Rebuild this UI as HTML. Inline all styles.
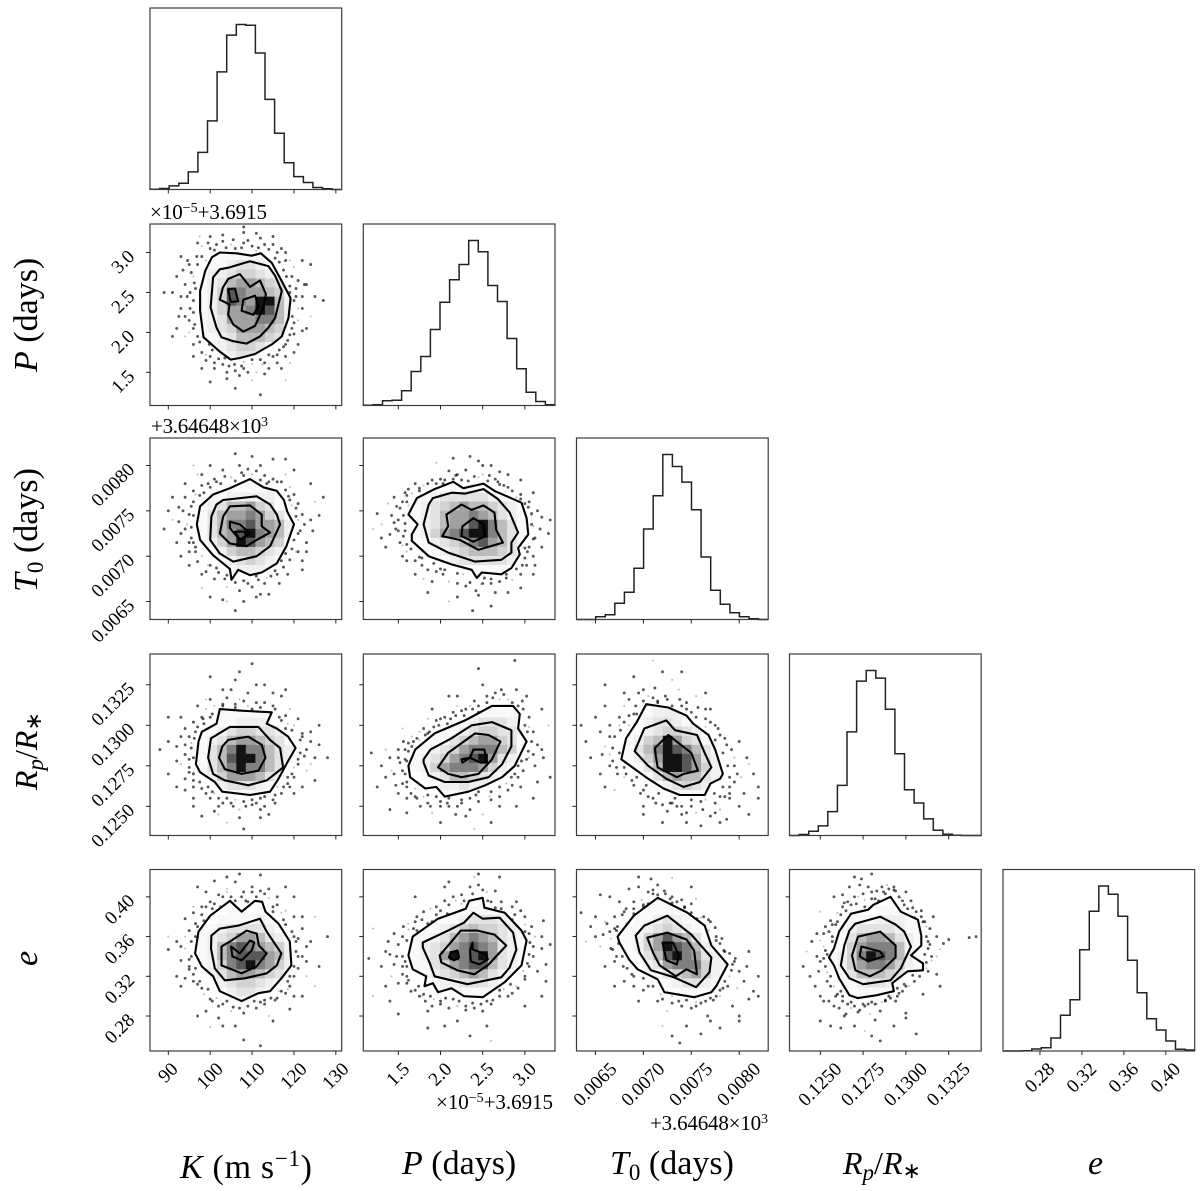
<!DOCTYPE html>
<html lang="en">
<head>
<meta charset="utf-8">
<title>Corner plot</title>
<style>
html,body{margin:0;padding:0;background:#fff;}
svg{display:block;filter:blur(.35px);}
text{font-family:"Liberation Serif",serif;fill:#000;}
.tick{font-size:19px;}
.off{font-size:21px;}
.lab{font-size:34px;}
</style>
</head>
<body>
<svg id="chart" xmlns="http://www.w3.org/2000/svg" width="1200" height="1191" viewBox="0 0 1200 1191">
<rect width="1200" height="1191" fill="#fff"/>
<g id="panels"></g>
<text class="off" x="150" y="219" textLength="117">×10<tspan dy="-7" font-size="14">−5</tspan><tspan dy="7">+3.6915</tspan></text>
<text class="off" x="151" y="433" textLength="117">+3.64648×10<tspan dy="-7" font-size="14">3</tspan></text>
<text class="off" x="436" y="1109" textLength="117">×10<tspan dy="-7" font-size="14">−5</tspan><tspan dy="7">+3.6915</tspan></text>
<text class="off" x="650" y="1130" textLength="118">+3.64648×10<tspan dy="-7" font-size="14">3</tspan></text>
<text class="lab" x="180" y="1178" textLength="132"><tspan font-style="italic">K</tspan> (m s<tspan dy="-12" font-size="23">−1</tspan><tspan dy="12">)</tspan></text>
<text class="lab" x="402" y="1174"><tspan font-style="italic">P</tspan> (days)</text>
<text class="lab" x="610" y="1174"><tspan font-style="italic">T</tspan><tspan dy="6" font-size="23">0</tspan><tspan dy="-6"> (days)</tspan></text>
<text class="lab" x="843" y="1174" font-size="32" style="font-size:32px"><tspan font-style="italic">R</tspan><tspan dy="6" font-size="23" font-style="italic">p</tspan><tspan dy="-6">/</tspan><tspan font-style="italic">R</tspan><tspan dy="4" font-size="22">∗</tspan></text>
<text class="lab" x="1088" y="1174" font-style="italic">e</text>
<text class="lab" transform="translate(37,372) rotate(-90)"><tspan font-style="italic">P</tspan> (days)</text>
<text class="lab" transform="translate(37,592) rotate(-90)"><tspan font-style="italic">T</tspan><tspan dy="6" font-size="23">0</tspan><tspan dy="-6"> (days)</tspan></text>
<text class="lab" transform="translate(37,790) rotate(-90)" style="font-size:32px"><tspan font-style="italic">R</tspan><tspan dy="6" font-size="23" font-style="italic">p</tspan><tspan dy="-6">/</tspan><tspan font-style="italic">R</tspan><tspan dy="4" font-size="22">∗</tspan></text>
<text class="lab" transform="translate(37,966) rotate(-90)" font-style="italic">e</text>
</svg>
<script>
/* Units: K m/s; P 1e-5 d (offset 3.6915); T0 1e-4 d (offset 3646.48); Rp/R* 1e-4; e 1e-2 */
const domainK=[85.63,131.4], domainP=[1.085,3.357], domainT=[63.02,83.03], domainR=[1232,1344], domainE=[24.48,42.75];
const ticksK=[90,100,110,120,130], labelsK=["90","100","110","120","130"];
const ticksP=[1.5,2,2.5,3], labelsP=["1.5","2.0","2.5","3.0"];
const ticksT=[65,70,75,80], labelsT=["0.0065","0.0070","0.0075","0.0080"];
const ticksR=[1250,1275,1300,1325], labelsR=["0.1250","0.1275","0.1300","0.1325"];
const ticksE=[28,32,36,40], labelsE=["0.28","0.32","0.36","0.40"];

const histK=[1,3,11,19,53,112,207,355,466,498,496,412,272,170,81,39,21,6,2,0];
const histP=[1,2,14,16,44,102,147,228,310,377,423,495,461,360,312,201,110,40,12,2];
const histT=[0,0,8,14,49,82,154,272,372,496,460,413,330,188,88,46,20,8,2,0];
const histR=[0,3,13,29,72,151,312,465,497,474,380,246,138,98,50,16,4,1,0,0];
const histE=[0,0,1,6,10,39,107,154,304,419,495,470,404,272,175,97,63,30,5,3];

const outerKP=[102.3,3,106.3,2.99,109.9,2.96,112.1,2.99,114.7,2.87,117.1,2.64,119.2,2.43,118.7,2.18,117.1,1.95,114.7,1.85,110.7,1.73,107.1,1.68,104.9,1.66,102.3,1.76,98.4,1.94,97.6,2.27,97.6,2.52,98.8,2.77,100.4,2.94];
const midKP=[104.3,2.81,109.5,2.89,113.9,2.83,115.5,2.71,117.1,2.52,115.5,2.18,113.9,2.06,111.9,1.95,108.7,1.86,105.5,1.89,102.7,1.94,101.5,2.06,100.1,2.31,100.7,2.69,102.3,2.79];
const innerKP=[104.3,2.67,107.1,2.73,109.5,2.57,111.9,2.65,113.3,2.48,112.7,2.31,110.7,2.08,107.9,2.01,105.5,2.1,104.3,2.22,104.6,2.35,102.3,2.41,103,2.56];
const peaksKP=[[104.3,2.54,105.9,2.55,106.7,2.39,104.9,2.38],[107.9,2.41,110.7,2.46,111.5,2.33,110.3,2.22,107.5,2.27]];
const densKP=["00001111100000","00111233210000","00122344321000","00123566543100","00124876654100","00124876995210","00124667985210","00123666775210","00123466654100","00112355543100","00012344321000","00001233210000","00000111100000"];
const dotsKP=[97,3.12,100,3.05,103,3.14,105,3.1,108,3.12,110,3.08,112,3.18,114,3.04,116,3,118,2.9,120,2.82,117,3.05,121,2.65,123,2.6,120,2.4,122,2.3,125,2.45,121,2.15,123,2.05,120,1.98,118,1.85,120,1.75,116,1.72,113,1.62,110,1.6,108,1.55,106,1.52,103,1.6,100,1.7,98,1.75,96,1.85,94,1.95,92,2.05,95,2.15,93,2.3,96,2.4,91,2.5,94,2.6,96,2.7,95,2.85,98,2.95,93,2.95,100,3.2,108,3.25,104,1.42,110,1.4,113,1.48,98,1.55,117,1.55,96,2.05,96.5,2.55,96,2.25,119,2.9,119.5,2.7,120.5,2.55,119.6,2.2,118.5,1.9,115,1.7,112,1.66,108,1.63,104.5,1.58,102,1.67,100.5,1.78,97.5,1.88,95.5,2.75,97,2.85,99,2.9,101,3.03,106,3.05,111.5,3.06,115.5,2.93,117.5,2.78,122,2.9,124,2.2,127,2.4,89,2.5,91,1.95,100,1.38,106,1.3,112,1.22,118,1.4,108,3.32,115,3.2,124,2.85,93.5,2.78,94.5,2.45,92.5,2.2,95,2,99,1.65,101,1.55,107,1.46,109,1.5,114,1.55,116,1.62,119,1.62,121,1.85,122,2.45,118,3,96.2,2.62,95.2,2.5,96.8,2.95,98,3.08,99.5,3.12,101.5,3.1,103.8,3.06,105.5,3.16,107.5,3.06,109,3.15,111,3.02,113,3.1,115,3.1,116.5,2.88,118.2,2.7,119,2.58,120.5,2.45,121,2.3,120,2.12,119.5,2.05,119,1.97,117.5,1.82,116.5,1.78,114,1.72,112.5,1.6,110,1.66,107.5,1.58,105.8,1.6,103.5,1.68,101,1.62,99.8,1.85,99,1.72,97,1.95,96.3,2.1,95.2,2.3,94,2.2,93,2.45,94.6,2.9,97.5,3.2,103,3.22,111,3.24,119,2.5,122.5,2.6,122,2.02,104,1.5,111,1.5,96,1.7,92,2.7,118,1.7];

const outerKT=[109.5,78.5,112.7,77.6,115.9,77.2,117.6,76.2,118.4,74.9,120,73.5,118.2,71.1,115.9,69.2,112.3,68.2,109.5,67.9,106.7,68.5,105.1,67.4,104.7,68.6,100.7,70.1,97.6,71.8,96.8,73.5,97.6,75.5,100.7,76.8,104.7,77.5];
const midKT=[103.1,76.2,111.1,76.6,114.3,75.7,115.9,74.6,116.7,73.5,114.3,71.1,111.1,70,105.5,69.4,102.3,70.3,100,71.8,100.3,74.4,101.5,75.7];
const innerKT=[104.7,75.5,109.5,75.6,112.3,74.6,112.3,73.3,114.3,72.6,111.1,71.8,108.7,71.1,104.7,71.4,102.3,72.5,103.1,74.4];
const peaksKT=[[104.7,73.8,107.1,73.5,109.5,72.5,107.1,71.8,104.7,73.1],[105.9,72.7,108.3,72.7,108.5,72.2,107.1,71.8]];
const densKT=["00000000000000","00000001100000","00000111110000","00011222221100","00123556431100","00135667643100","00135778665210","00135689765210","00124698654100","00012455432100","00001234321000","00000122211000","00000011000000"];
const dotsKT=[98,79,101,78.5,103,79.5,105,78.7,107,80,109,79.6,111,79.4,113,78.9,115,78.5,117,78.2,119,77.6,120,76.8,121,75.8,122,74.6,122.5,73.5,121,72.5,123,71.5,120.5,70.5,119,69.6,117.5,68.8,116,68,113,67,110,66.6,107,66.2,104,66.6,101,67.5,99,68.3,97,69.4,95,70.5,96,71.5,93,72.5,94.5,73.5,95,74.6,92.5,75.4,94,76.5,96,77.2,98,77.8,100,77.6,91,74,89,73,100,65.5,108,65,112,65.8,103,65.2,106,64,125,76,126,74.5,124,78,120,79.5,110,81,106,81.3,115,80.7,96,80,95,69,93,70,118.5,68,121,70.5,122,69.5,116.5,67,118,79,113.5,78,102.5,78,108,78.9,95.5,72,96,76,97.5,76.7,99.5,69,101.5,68.7,103.5,67.5,109,67,111.5,67.4,114.5,67.8,120.5,74.4,119.5,75.6,118.7,76.6,117,72,96.5,70.5,92,71.5,91,76.5,94,78,98,66.5,114,65.8,122,68.5,124.5,72.8,127,76.5,96,74.5,95.5,75.5,96.5,76.8,98.5,77,99.5,78,101.5,78.2,103.5,78.8,106,78.3,107.5,79.2,110,79,112,78.4,114,78.2,116,78.2,118,77.3,119,76.2,120.5,75.3,121,74,121.5,72.8,120,71.8,119.5,70.8,118,70.3,117,69.5,115.5,68.4,113.5,67.6,111,67.8,108,67.3,106,67.1,104,67.9,102,68.2,100,69,98,70,96.5,71,95,71.5,94,73,95.5,73.2,93.5,75,92.5,73.8,97,79,100,80,112,80,118,80.7,124,74,123,70.5,111,65.5,104,65,98,68,90,75];

const outerTP=[1.72,76.4,1.93,77.4,2.15,78.2,2.27,77.5,2.51,78,2.64,77.2,2.96,75.9,3.02,74.2,3.04,72.4,2.92,70.9,2.94,70.2,2.84,68.7,2.72,68,2.49,68.2,2.43,67.6,2.37,68.5,2.13,69.1,1.86,70,1.66,71.7,1.66,72.4,1.73,73.5,1.62,74.6];
const midTP=[1.91,76.4,2.13,77,2.29,76.9,2.51,77.4,2.68,76.3,2.82,74.8,2.92,72.6,2.84,71.5,2.84,70.4,2.72,69.6,2.41,69.4,2.09,70.4,1.86,71.5,1.8,73.5,1.86,75.7];
const innerTP=[2.07,74.6,2.25,75.7,2.37,75.1,2.51,75.6,2.64,74.8,2.66,72.9,2.74,71.5,2.45,70.7,2.23,71.8,2.02,72.2,2.09,73.3];
const peaksTP=[[2.39,74.2,2.51,73.5,2.53,72.2,2.39,71.6,2.25,72.2,2.26,73.3]];
const densTP=["00000000000000","00000000000000","00000011110000","00112333332111","00123456554321","00123566765321","00123566897531","00124678997531","00012345786531","00011234555431","00001123333321","00000011111100","00000000100000"];
const dotsTP=[1.6,76.7,1.55,76,1.48,75.5,1.38,75.8,1.42,74.5,1.45,73.7,1.5,72.8,1.4,72.4,1.52,71.5,1.35,71,1.6,70.5,1.55,70,1.7,69.5,1.78,69,1.85,68.5,1.95,68.3,2.03,68,2.1,67.2,2.2,67,2.3,66.7,2.42,66.2,2.5,67,2.6,67,2.7,67.2,2.85,67.4,2.95,68,3.02,69,3.1,70,3.05,71,3.12,72,3.18,73,3.08,74.5,3.15,75,3.05,76,2.95,76.8,2.85,77.2,2.75,77.8,2.65,78.5,2.5,79,2.4,78.8,2.3,79.5,2.2,79,2.1,79.4,2,78.5,1.9,78.4,1.8,77.8,1.7,78,1.62,77.4,2.35,81,2.45,80.5,2.6,80,2.15,80.8,1.95,80.3,2.8,79,2.95,78.4,3.1,77,3.3,74,3.28,72.5,1.25,74.7,1.3,73.5,1.7,68,1.9,67.2,2.2,65.5,2.45,65.7,2.6,64.5,2.38,64,2.1,65,1.85,66,2.8,66,2.95,66.5,3.1,68,1.58,72.8,1.58,73.6,1.62,75.6,1.58,77,1.75,77.2,2.03,78,2.25,78.4,2.56,78.3,2.7,77.9,2.9,76.5,3,75.8,3.08,73.5,3.03,70.5,2.97,69,2.78,68,2.52,67.6,2.27,68,2,68.6,1.78,69.8,1.6,71.3,1.56,74.5,1.52,75.3,1.6,76,1.66,76.9,1.75,77.5,1.85,78,1.95,78,2.05,78.4,2.18,78.9,2.33,78.3,2.45,78.7,2.58,78.9,2.68,78.2,2.8,77.6,2.95,76.3,3.04,75.4,3.08,74.7,3.1,73.3,3.1,71.9,3,70.9,3,69.8,2.9,68.6,2.78,67.6,2.6,67.5,2.48,66.9,2.35,67.1,2.2,68.1,2.05,68.5,1.92,69.2,1.75,69.9,1.65,70.8,1.55,71.2,1.56,72.2,1.47,73,1.5,74,1.45,76.5,1.3,72,1.6,69.5,1.2,73,2.5,80,2.7,79.3,2.15,78.5,3.2,74.3,3.2,71,3.12,69,1.8,67.5,2.65,66];

const outerKR=[102.3,1310,107.5,1309,114.7,1308,113.5,1301,115.9,1298,118.6,1293,120.4,1286,118.6,1278,116.3,1267,114.3,1259,109.5,1257,102.9,1259,101.1,1265,97.6,1271,96.6,1276,97.2,1290,98,1296,101.5,1301];
const midKR=[104.7,1299,111.5,1299,114.3,1291,116.7,1286,117.4,1274,113.5,1266,109.1,1263,103.5,1266,100.7,1270,99.5,1280,100.2,1292];
const innerKR=[104.3,1291,109.1,1293,112.3,1288,113.2,1280,111.5,1272,107.5,1270,103.5,1273,102.1,1280,102.9,1287];
const peaksKR=[];
const densKR=["0","0","0","00001111111000","00011122221000","00112344332100","00123566543100","00135797753210","00135899753210","00135797753100","00124666532100","00012333211000","00000111111000"];
const dotsKR=[100,1316,103,1313,105,1322,107,1316,109,1320,111,1314,113,1325,115,1312,117,1318,118,1306,120,1300,122,1295,121,1304,124,1290,123,1285,126,1288,121,1279,123,1272,120,1268,119,1262,117,1258,115,1254,113,1250,110,1251,107,1248,105,1252,102,1250,100,1255,98,1261,96,1266,95,1271,93,1276,94,1282,92,1287,95,1293,94,1298,96,1302,98,1305,99,1310,97,1312,93,1305,90,1290,90,1270,88,1285,98,1244,104,1240,108,1236,112,1243,100,1330,110,1338,107,1333,118,1322,124,1276,125,1266,122,1262,114,1245,96,1255,94,1260,96,1280,95.5,1289,95,1274,96,1262,99,1258,100.5,1259,102,1255,104,1255,106,1254,108,1253,110,1254,112,1255,115.5,1257,117.5,1262,118.5,1268,120,1274,121.5,1283,121.5,1291,118,1298,117,1303,115.5,1310,112,1311,109,1312,106,1311,103,1312,100.5,1307,98.5,1301,96.5,1296,95.5,1286,119,1310,126,1300,128,1280,90,1305,92,1262,101,1247,107,1243,96,1271,95,1279,94,1288,96.2,1292,97,1299,98.3,1304,100,1305,101,1312,104,1317,106,1313,108,1315,110,1310,113,1314,116.5,1305,118.5,1301,119.5,1297,122,1293,122.5,1281,121,1276,119.5,1270,118.5,1264,116,1262,115.5,1252,113,1256,111,1252,108.5,1250,105.5,1250,103,1252,101,1258,99.5,1262,97.5,1265,96,1270,94,1267,92,1278,93,1293,99,1316,103,1322,115,1320,124,1296,125,1280,120,1258,112,1248,102,1245,96,1250,111,1325,106,1328];

const outerKE=[100,38.1,104.7,39.6,107.5,38.5,110.7,39.6,112.4,39.5,113.2,38.5,116.3,37.3,119,35.5,119.4,33.1,117,31.8,114.3,30.5,111.5,30.3,107.5,29.5,102.3,30.5,100.7,32,98,33,96.4,34.3,97.2,36.5];
const midKE=[102.3,36.8,106.7,37.1,111.9,37.8,113.5,36.5,117,34.3,115.9,33.1,113.5,32.3,108.3,31.8,103.5,31.6,101.1,32.8,100.2,34.8,100.3,36.1];
const innerKE=[105.1,35.6,108.7,36.6,111.1,36.3,111.6,35.1,113.5,34.3,111.1,33,107.5,32.3,102.7,33.1,102.7,35];
const peaksKE=[[105,35,107.1,34.3,109.5,35.6,110.5,35.4,109.9,34.6,107.5,33.6,105.3,34]];
const densKE=["00000000000000","00000110110000","00001111211000","00112333321000","00123466532100","00125787654210","00125788865210","00124789764210","00123566543100","00012344321000","00001233211000","00000011100000","0"];
const dotsKE=[98,39,100,39.5,102,40.2,104,40.8,106,41.5,108,40.5,110,41,112,40.6,114,40.8,116,39.2,118,38.6,120,38,122,36.8,121,35.8,123,35,122,34,121,32.8,123,32,119,31,118,30.3,116,29.8,113,29.6,111,28.8,108,28.3,105,28.5,102,29,100,29.7,98,30.8,96,31.5,95,32.7,93,33.6,94,34.8,92,35.5,95,36.6,94,37.8,96,38.4,90,34.7,92,32,100,26.9,108,25.6,112,25,103,27,115,27.5,97,41,112,42.2,125,38,128,36,126,33,107,42.3,101,41.6,120,40,118,41,125,31,122,30,96.5,37.3,95.5,35.5,95,33.7,96,32.2,97,31.2,98.5,30.2,100.5,29.5,103,29.2,105.5,28.9,109,29,112,29.4,114.5,29.8,116.5,30.5,118.5,31.5,120,33,120.5,34.5,120,36,117.5,37.7,115,38.5,114,39.9,111,40,108.5,39.6,105,40,102.5,39,100.5,38.8,98.5,37.6,90,36,93,31,97,28,102,27.8,119,28.7,124,35.5,95.5,34,94,36,96.5,36,97,37,98,38.2,99,39,101,39.3,103,40,104,40.5,106,39.6,107.5,40,109,39.5,110,40.5,113,40.3,115,39,117,38.4,118,37.2,119.5,36.5,120.5,35.5,121,34,120,32,119,32,118.5,30.7,117,30.5,115.5,29.6,113,29.2,110.5,29.5,107,28.8,104,29.5,101.5,29.8,99.5,30.7,97.5,31.5,96.5,32.8,95,33,94,31.8,93,35,96,39,99,40.5,104,42,116,40,122,38,123,33.5,120,30,114,28,106,27,99,28.5];

const outerRP=[1.7,1285,1.93,1295,2.29,1303,2.61,1312,2.86,1312,2.94,1307,2.92,1298,3.02,1290,2.88,1275,2.73,1268,2.53,1263,2.33,1259,2.05,1256,1.95,1262,1.82,1261,1.64,1268,1.62,1275];
const midRP=[1.8,1279,1.88,1285,2.13,1292,2.37,1300,2.61,1302,2.84,1297,2.84,1287,2.73,1276,2.57,1268,2.33,1265,2.05,1265,1.86,1269,1.8,1277];
const innerRP=[1.97,1274,2.09,1283,2.41,1295,2.57,1294,2.71,1290,2.61,1279,2.45,1270,2.25,1268,2.09,1270];
const peaksRP=[[2.25,1279,2.35,1280,2.39,1285,2.52,1285,2.55,1277,2.47,1277,2.35,1280,2.26,1277]];
const densRP=["0","0","00000000001110","00000000111111","00000011233321","00000112344332","00011134566431","00012346777541","00123467896321","00124677764210","00012355432100","00001223221000","00000011100000"];
const dotsRP=[1.3,1275,1.35,1268,1.4,1280,1.42,1272,1.47,1263,1.5,1285,1.52,1277,1.56,1290,1.6,1262,1.62,1284,1.66,1293,1.7,1256,1.72,1292,1.76,1250,1.8,1298,1.85,1252,1.87,1296,1.9,1246,1.95,1303,2,1250,2.05,1305,2.1,1250,2.15,1308,2.18,1245,2.2,1312,2.25,1252,2.3,1310,2.35,1248,2.4,1315,2.45,1253,2.45,1308,2.5,1245,2.55,1318,2.6,1254,2.62,1317,2.7,1256,2.72,1322,2.8,1260,2.8,1316,2.85,1263,2.9,1322,2.92,1268,2.97,1315,2.98,1272,3.02,1318,3.05,1280,3.05,1305,3.1,1296,3.12,1275,3.15,1288,3.2,1310,3.22,1280,3.28,1300,3.3,1268,1.18,1283,1.25,1262,1.4,1248,1.6,1246,2,1240,2.4,1236,2.6,1240,2.9,1250,3.1,1255,2.45,1335,2.88,1340,2.95,1262,1.55,1298,1.9,1310,2.1,1318,1.58,1270,1.58,1279,1.6,1278,1.66,1287,1.75,1291,1.85,1295,1.98,1300,2.12,1304,2.25,1309,2.38,1310,2.55,1314,2.7,1316,2.92,1312,3,1300,3.03,1296,3.04,1284,2.96,1278,2.88,1270,2.78,1264,2.6,1259,2.42,1257,2.25,1254,2.08,1252,1.95,1256,1.85,1257,1.7,1261,1.6,1265,1.5,1280,1.55,1272,1.58,1285,1.62,1289,1.68,1290,1.75,1296,1.82,1294,1.92,1299,2,1304,2.08,1301,2.18,1306,2.28,1306,2.35,1312,2.45,1312,2.55,1310,2.65,1320,2.75,1319,2.85,1314,2.98,1310,3.05,1299,3.08,1290,3.1,1282,3.02,1279,2.92,1275,2.84,1268,2.7,1262,2.58,1256,2.45,1259,2.35,1255,2.2,1250,2.1,1255,2,1253,1.88,1250,1.8,1256,1.72,1255,1.65,1258,1.55,1264,1.5,1258,1.45,1270,1.6,1255,1.35,1285,2.2,1318,2.5,1325,3.2,1285,3.15,1265,2.7,1250,2.3,1244,1.85,1304];

const outerRT=[70.3,1313,72.6,1311,74.5,1306,75.2,1301,76.8,1294,77.5,1285,78.3,1270,78,1267,77,1264,76.4,1257,73.8,1257,72.1,1261,70.5,1267,67.7,1279,68.2,1292,69.3,1302];
const midRT=[70.1,1298,72.4,1303,73.3,1297,75.6,1294,76.4,1283,77.1,1274,75.9,1265,74.2,1262,72.4,1267,70.5,1275,69.1,1284];
const innerRT=[71.2,1286,72.6,1294,75,1283,75.7,1272,74.2,1270,73.5,1268,71.5,1274,71.3,1281];
const peaksRT=[];
const densRT=["0","0","00001110000000","00011222110000","00112332111000","00112344321000","00124596431100","00135798753100","00124699863210","00013599864210","00001356553210","00000123432100","00000001111100"];
const dotsRT=[64,1290,65,1305,65.5,1296,66,1287,66,1312,66.5,1300,66.8,1278,67,1293,67.3,1270,67.5,1305,68,1312,68.2,1270,68.5,1316,69,1263,69.3,1307,69.5,1320,70,1260,70.5,1318,71,1255,71.2,1323,71.5,1315,72,1251,72.3,1318,73,1252,73,1328,73.5,1250,73.8,1316,74,1312,74.5,1246,75,1250,75,1308,75.5,1318,76,1253,76.5,1304,77,1244,77,1310,77.5,1252,77.8,1298,78,1248,78.5,1292,79,1255,79,1262,79.2,1285,79.5,1275,80,1250,80.2,1268,80.5,1258,80.8,1280,81,1245,81.5,1270,82,1262,63.5,1300,71,1340,74,1333,66,1325,69,1330,78,1240,76,1238,72,1240,67,1260,70,1250,77.5,1300,80,1290,67.5,1283,66.8,1286,67.6,1297,68.5,1300,69,1307,70,1315,71.5,1314,73,1312,74.5,1310,75.5,1305,76.5,1299,77.5,1291,78.3,1283,78.8,1275,79,1268,78.3,1262,77.4,1258,76.5,1254,75,1254,73.3,1255,71.6,1258,70.3,1263,69.3,1268,68,1274,66.5,1282,74,1245,72.5,1247,78.5,1256,66.5,1275,65.7,1282,66.5,1293,67.5,1300,68,1302,68.5,1306,69.2,1312,70,1322,71,1317,72.5,1316,73.7,1322,74.5,1314,75.7,1311,76.5,1310,77,1302,78,1294,78.7,1288,79.5,1280,79.8,1270,79.5,1265,79,1258,78,1256,77.5,1246,76.2,1248,75.5,1246,74,1250,72.8,1252,71.3,1252,70.5,1256,69.7,1258,68.8,1266,68,1268,67.2,1274,65.5,1270,64.5,1280,68,1320,72,1333,76.5,1320,81,1276,82,1255,78.7,1242,74.5,1240,70,1245,66,1262];

const outerEP=[1.67,36,1.97,37.8,2.3,38.8,2.34,39.6,2.5,39.9,2.52,38.9,2.76,38.4,2.96,36.6,3.02,35.6,2.96,33.1,2.76,31.4,2.5,29.9,2.28,30,2.13,30.8,1.97,30.4,1.91,31.3,1.81,31,1.83,32,1.67,32.7,1.62,34.1];
const midEP=[1.79,35.4,2.09,36.6,2.28,37.4,2.39,38.4,2.5,37.8,2.7,37.9,2.86,36.4,2.9,34.7,2.82,32.9,2.72,31.9,2.32,31.2,1.93,32,1.87,33.4,1.79,34.9];
const innerEP=[1.99,34.1,2.24,36.6,2.44,36.6,2.64,36.2,2.78,35.1,2.56,33.1,2.4,32.2,2.2,32.6,2.01,33.4];
const peaksEP=[[2.12,34.4,2.2,34.6,2.22,33.9,2.16,33.6,2.1,33.9],[2.38,35.4,2.38,34.7,2.54,34.2,2.56,33.7,2.46,33.2,2.36,33.5,2.35,34.6]];
const densEP=["00000000011000","00000001111100","00001112333210","00011234544321","00112356765321","00123467876321","00123697896321","00113467885321","00012345653210","00001223332100","00000111111100","0"];
const dotsEP=[1.3,33,1.35,34.5,1.38,35.5,1.42,32,1.45,36.3,1.48,34,1.5,31.3,1.55,33,1.56,37,1.6,32,1.62,36.7,1.65,30.5,1.7,37.5,1.72,38,1.75,30,1.8,38.5,1.82,29.5,1.88,38.8,1.9,29,1.95,39,2,29.5,2.05,39.6,2.1,28.8,2.15,40,2.2,29,2.25,40.2,2.3,29,2.35,41,2.4,28.8,2.45,41.2,2.5,28.5,2.55,40.5,2.6,29.2,2.65,40.6,2.7,30,2.72,39.5,2.8,30,2.85,39,2.9,31,2.95,38.6,3,31.7,3,38,3.05,33,3.08,37,3.1,35,3.12,36,3.15,32.5,3.2,34.8,3.22,37.6,3.3,35.2,3.25,33.2,1.15,33.8,1.2,36.8,1.4,29.5,1.5,28.2,1.85,26.8,2.05,27,2.35,26,2.55,27,2.6,25.5,3,29,3.2,30,2.7,42,2.45,42.3,2.1,41.5,1.7,40,1.2,30,1.6,35.6,1.58,33.5,1.6,33,1.62,31.6,1.74,31,1.8,30.2,1.92,29.7,2.06,29.8,2.22,29.5,2.38,29.3,2.55,29.5,2.7,30.6,2.83,31.2,2.98,32.5,3.05,34.2,3.06,35.4,3,36.5,2.85,37.7,2.65,38.9,2.56,39.6,2.25,39.3,2.08,38.3,1.9,37.5,1.72,36.6,1.55,34,1.5,35.2,1.55,36,1.62,37.3,1.68,36.8,1.78,37.7,1.85,37.3,1.95,38.2,2,38.6,2.1,39.2,2.18,39.6,2.28,39.6,2.38,40.3,2.5,40.7,2.6,39.5,2.72,38.8,2.88,38.2,3,37.2,3.05,36.3,3.1,34,3.03,33.3,3,32,2.92,30.8,2.85,30.3,2.75,30.7,2.62,29.6,2.48,29.2,2.3,28.6,2.15,29.7,2,29.2,1.88,30,1.78,30,1.7,30.6,1.6,31.3,1.55,32.2,1.45,33.2,1.4,34.2,2.05,41,2.4,42,2.9,39.5,3.2,36,3.25,31.5,2.2,27.5,1.85,28.5,1.35,31];

const outerET=[67.3,36,69,38.1,71.5,39.9,74.6,38.4,76.4,37.1,77.1,35.1,78.8,33.2,77.6,31,77.1,30.4,75.3,29.9,72.2,30.4,71.5,31.7,69.4,32.7,68.5,33.7,67.5,35.4];
const midET=[69.2,36.1,70.1,37.1,72.5,38.1,75,36.2,77.1,33.9,76.9,32.4,75.5,30.9,73.2,31.9,70.8,32.6,69.6,34.4];
const innerET=[70.4,35.9,72.5,36.4,74.5,35.7,75.3,34.6,75.6,32.2,74.5,32.7,73.4,32,71.7,33.1,71,34.4];
const peaksET=[[72,35.4,73.1,35.4,73.7,34.1,73.5,33.2,72.4,33.6]];
const densET=["00000100000000","00001111000000","00011232110000","00112343210000","01124686531000","00124698752100","00013589763210","00002367774220","00000134564210","00000012332110","00000001111110","0"];
const dotsET=[71.5,38.7,65,38,65.5,40.2,66,37.5,66.5,36.5,67,38,66.8,34.7,67.3,37,67.5,39.5,68,38.5,68.2,35,68.5,40.8,68.8,36.6,69,39.5,69.5,34,69.5,41,70,39,70.3,33,70.5,40.5,71,32,71,40.3,71.5,41.2,72,31,72.3,40.3,73,30,73,40,73.5,39.5,74,29,74.3,39,75,28.8,75,38.4,75.5,39.8,76,29.3,76.3,38,76.7,28,77,37.5,77.3,29.6,77.6,36,78,30,78,35.3,78.5,34.5,78.8,31,79.2,32.6,79.3,29,79.5,33.5,79.8,30.8,80,28,80.5,31.5,80.8,33,81,29.7,81.5,30.5,82,32,64,35.5,63.5,38.4,66,33,68,31.5,69,31,70,30.6,71.5,29.5,72,27,73,26,73.8,25.3,74.5,27,76,26.2,78,26.8,80,27.5,73,41.9,69.5,42,75,41,70.8,41.8,67,33.5,67.4,35.3,67.2,36.6,68.2,37.3,69,38.8,70,39.2,71.5,40.2,73,39.4,74.3,38.9,75.6,37.8,76.8,36.6,77.6,35.6,78.4,34.6,79.3,33.2,78.5,31.5,78,30.6,77,29.8,75.5,29.4,73.7,29.5,72,29.7,70.5,31,69,32,68.3,32.8,67.8,34,66.6,35.8,65.8,36.2,66.2,37.3,67,36.8,67.8,38.2,68.2,38.8,69,38.3,69.8,39.7,70.5,39.3,71,40.7,72.2,40.6,72.8,39.8,74,39.7,75,39.3,76,37.9,76.8,37.7,77.5,36.9,78.2,35.8,79,34.3,79.6,33.8,80,32.5,79,32,78.3,30.8,77.6,30,76.5,29.5,75.5,29,74.5,29.6,73,29.3,71.8,30.2,71,31,70,31.8,68.8,32.2,67.9,33,67.2,34,66.6,34.8,65.5,35,65,36,64.5,37,66.5,40,81,34.5,82,30,77,27.5,72.5,28.5,69.5,29.5,67,31];

const outerER=[1281,39.2,1291,40,1297,38.5,1307,37.7,1309,36.1,1309,35.1,1303,34.1,1310,33.3,1310,32.6,1301,32.5,1292,31.3,1293,30.5,1283,30.1,1272,29.8,1267,30.1,1261,31.8,1258,33.1,1255,33.9,1258,34.8,1261,36.5,1268,38.3,1278,38.7];
const midER=[1270.5,37.3,1285,38,1294,37.2,1299,36.5,1303,35,1297,32.8,1291,31.6,1275,31.2,1267,31.8,1262,33.1,1264,35.1,1267,36.6];
const innerER=[1272,36,1285,36.5,1294,35.1,1294,33.9,1286,32.6,1279,32,1270.5,32.6,1268.5,34.1];
const peaksER=[[1274,35,1285,34.5,1287,34,1278,33.5,1273,34]];
const densER=["00000000100000","00000011110000","00011122211000","00123333211000","00135665321000","00146777521000","01247987521000","00246776421000","00135554310000","00112332100000","00011111000000","00001000000000"];
const dotsER=[1341,36,1337,35.9,1240,33,1242,34.5,1244,32,1245,35.5,1247,31,1248,36.3,1250,33.5,1250,30,1252,35,1253,37,1254,31.5,1255,29.5,1256,37.6,1257,36,1258,29,1260,38.4,1261,28.8,1263,39,1263,30,1265,28.2,1266,39.5,1267,41,1268,28.8,1270,40,1272,28.4,1273,41.2,1275,40.3,1276,29,1278,41,1279,28.2,1280,39.8,1282,29.2,1283,40.6,1285,28.5,1286,41,1288,29.5,1289,41.2,1291,29.8,1293,40.7,1295,30,1296,40,1298,30.5,1299,39.2,1302,31,1303,39.6,1305,31.5,1306,38.5,1308,32,1309,38.6,1311,37.5,1312,32.8,1313,35.5,1314,36.8,1315,34,1316,38,1318,32.2,1318,36,1320,34.7,1322,35.3,1325,35.7,1250,27.5,1256,27,1262,26.8,1270,27,1276,26.5,1280,26,1285,25.5,1293,27,1300,28.3,1306,26.2,1258,40,1250,38.5,1270,42,1280,42.3,1310,30.2,1254,34.2,1253,33,1256,32,1258,31,1260,30.2,1263,29.5,1266,29.2,1270,29,1275,29.2,1280,29.4,1286,29.4,1290,30,1295,30.8,1299,31.2,1304,32.1,1312,33.4,1313,34.8,1312,37,1309,38,1304,38.9,1298,39.6,1293,41,1288,40.3,1282,39.8,1276,39.7,1271,39.3,1265,38.6,1259,37.2,1257,35.5,1252,36.3,1253,34.6,1250,35.6,1255,36.5,1257,37.2,1260,37.5,1262,38.2,1264,39.4,1268,39.2,1272,40,1276,39,1280,40.5,1284,39.6,1287,40.5,1290,40.8,1294,40.6,1297,39.9,1301,38.8,1305,37.9,1310,37.5,1312,36,1314,35.2,1311,34.2,1315,33.6,1313,32.5,1306,32.7,1300,31,1296,30.3,1294,29.5,1288,29.6,1283,29.2,1278,29.2,1273,28.6,1268,29.4,1262,30.5,1259,30,1256,31,1254,32.4,1252,33.8,1249,32.5,1248,34,1263,40.2,1274,41.8,1300,40.5,1318,34,1320,31,1300,27.8,1282,27.6,1264,28,1252,29.5];

const KEYS={K:[domainK,ticksK,labelsK,histK],P:[domainP,ticksP,labelsP,histP],T:[domainT,ticksT,labelsT,histT],R:[domainR,ticksR,labelsR,histR],E:[domainE,ticksE,labelsE,histE]};
const colOrder=["K","P","T","R","E"];
const panelList=[
 ["K","P",outerKP,midKP,innerKP,peaksKP,densKP,dotsKP],
 ["K","T",outerKT,midKT,innerKT,peaksKT,densKT,dotsKT],
 ["P","T",outerTP,midTP,innerTP,peaksTP,densTP,dotsTP],
 ["K","R",outerKR,midKR,innerKR,peaksKR,densKR,dotsKR],
 ["P","R",outerRP,midRP,innerRP,peaksRP,densRP,dotsRP],
 ["T","R",outerRT,midRT,innerRT,peaksRT,densRT,dotsRT],
 ["K","E",outerKE,midKE,innerKE,peaksKE,densKE,dotsKE],
 ["P","E",outerEP,midEP,innerEP,peaksEP,densEP,dotsEP],
 ["T","E",outerET,midET,innerET,peaksET,densET,dotsET],
 ["R","E",outerER,midER,innerER,peaksER,densER,dotsER]
];

const colLeft=[150,363.3,576.5,789.5,1003], rowTop=[8,224,438,654,869.5], PW=191.7, PH=181.5;
const greys=["#ffffff","#f9f9f9","#f0f0f0","#e3e3e3","#d2d2d2","#bcbcbc","#a0a0a0","#808080","#585858","#121212"];
const NS="http://www.w3.org/2000/svg";
const root=document.getElementById("panels");
function mk(tag,attrs,parent){
  const el=document.createElementNS(NS,tag);
  for(const k in attrs) el.setAttribute(k,attrs[k]);
  parent.appendChild(el);
  return el;
}
function xScale(k,c){const d=KEYS[k][0];return v=>colLeft[c]+(v-d[0])/(d[1]-d[0])*PW;}
function yScale(k,r){const d=KEYS[k][0];return v=>rowTop[r]+PH-(v-d[0])/(d[1]-d[0])*PH;}
function polyPath(a,sx,sy){
  let s="";
  for(let i=0;i<a.length;i+=2) s+=(i?"L":"M")+sx(a[i]).toFixed(1)+" "+sy(a[i+1]).toFixed(1);
  return s+"Z";
}
function frame(g,c,r){
  const box=mk("rect",{x:colLeft[c],y:rowTop[r],width:PW,height:PH,fill:"none",stroke:"#3c3c3c","stroke-width":1.2},g);
  
  
}
function xTicks(g,k,c,r,showLabels){
  const sx=xScale(k,c),b=rowTop[r]+PH,ticks=KEYS[k][1],labels=KEYS[k][2];
  ticks.forEach((t,i)=>{
    const ln=mk("line",{x1:sx(t),x2:sx(t),y1:b,y2:b+4,stroke:"#222","stroke-width":1},g);
    
    
    if(showLabels){
      const tx=mk("text",{class:"tick","text-anchor":"middle","dominant-baseline":"central"},g);
      
      
      tx.textContent=labels[i];
      const half=(tx.getComputedTextLength()+12)*0.3535;
      tx.setAttribute("transform","translate("+sx(t)+","+(b+11+half)+") rotate(-45)");
    }
  });
}
function yTicks(g,k,c,r,showLabels){
  const sy=yScale(k,r),l=colLeft[c],ticks=KEYS[k][1],labels=KEYS[k][2];
  ticks.forEach((t,i)=>{
    const ln=mk("line",{x1:l-4,x2:l,y1:sy(t),y2:sy(t),stroke:"#222","stroke-width":1},g);
    
    
    if(showLabels){
      const tx=mk("text",{class:"tick","text-anchor":"middle","dominant-baseline":"central"},g);
      
      
      tx.textContent=labels[i];
      const half=(tx.getComputedTextLength()+12)*0.3535;
      tx.setAttribute("transform","translate("+(136-half)+","+(sy(t)-3+half)+") rotate(-45)");
    }
  });
}
/* diagonal histograms */
colOrder.forEach((k,c)=>{
  const g=mk("g",{},root);
  
  
  const counts=KEYS[k][3],sx=xScale(k,c),d=KEYS[k][0],top=Math.max.apply(null,counts)*1.1,b=rowTop[c]+PH;
  const w=(d[1]-d[0])/counts.length;
  let s="M"+sx(d[0]).toFixed(1)+" "+b;
  counts.forEach((n,i)=>{
    const y=(b-n/top*PH).toFixed(1);
    s+="L"+sx(d[0]+i*w).toFixed(1)+" "+y+"L"+sx(d[0]+(i+1)*w).toFixed(1)+" "+y;
  });
  const p=mk("path",{d:s,fill:"none",stroke:"#222","stroke-width":1.5},g);
  
  
  frame(g,c,c);
  xTicks(g,k,c,c,c===4);
});
/* 2-D panels */
panelList.forEach((pn,idx)=>{
  const xk=pn[0],yk=pn[1],c=colOrder.indexOf(xk),r=colOrder.indexOf(yk);
  const sx=xScale(xk,c),sy=yScale(yk,r),dx=KEYS[xk][0],dy=KEYS[yk][0];
  const g=mk("g",{},root);
  
  
  const dots=pn[7];
  for(let i=0;i<dots.length;i+=2){
    const faint=(i/2)%7===3;
    const dot=mk("circle",{cx:sx(dots[i]).toFixed(1),cy:sy(dots[i+1]).toFixed(1),r:faint?1.05:1.45,fill:"#000",opacity:faint?.25:.66},g);
    
    
  }
  const outerD=polyPath(pn[2],sx,sy);
  const mask=mk("path",{d:outerD,fill:"#fff"},g);
  
  
  const cp=mk("clipPath",{id:"clip"+idx},g);
  
  
  const cpPath=mk("path",{d:outerD},cp);
  
  
  const cellsG=mk("g",{"clip-path":"url(#clip"+idx+")"},g);
  
  
  const wx=(dx[1]-dx[0])/20,wy=(dy[1]-dy[0])/20;
  pn[6].forEach((row,ri)=>{
    for(let ci=0;ci<row.length;ci++){
      const v=+row[ci];
      if(!v) continue;
      const x0=dx[0]+(ci+3)*wx,yTop=dy[1]-(ri+3)*wy;
      const cell=mk("rect",{x:sx(x0).toFixed(1),y:sy(yTop).toFixed(1),width:(sx(x0+wx)-sx(x0)+.2).toFixed(1),height:(sy(yTop-wy)-sy(yTop)+.2).toFixed(1),fill:greys[v]},cellsG);
      
      
    }
  });
  [pn[2],pn[3],pn[4]].concat(pn[5]).forEach(poly=>{
    const ct=mk("path",{d:polyPath(poly,sx,sy),fill:"none",stroke:"#000","stroke-width":2.1,"stroke-linejoin":"round"},g);
    
    
  });
  frame(g,c,r);
  xTicks(g,xk,c,r,r===4);
  yTicks(g,yk,c,r,c===0);
});
</script>
</body>
</html>
